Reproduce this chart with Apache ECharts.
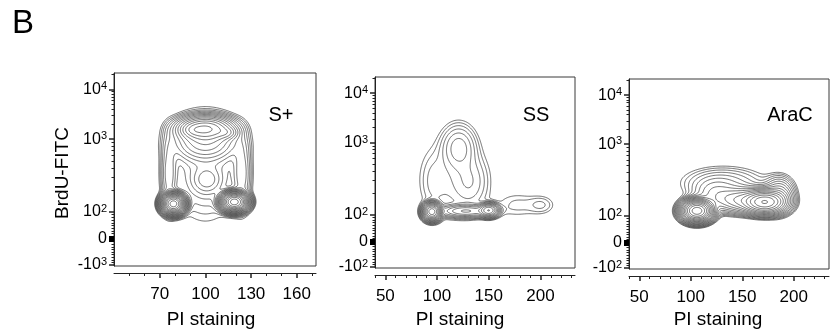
<!DOCTYPE html>
<html>
<head>
<meta charset="utf-8">
<script src="https://cdn.jsdelivr.net/npm/echarts@6.0.0/dist/echarts.min.js"></script>
<style>
  html, body { margin: 0; padding: 0; background: #fff; }
  #chart { width: 831px; height: 334px; }
</style>
</head>
<body>
<div id="chart"></div>
<script>
// panel titles
const panelNames = ['S+', 'SS', 'AraC']

// x axis (PI staining) ticks
const xMajor1 = [70, 100, 130, 160]
const xMinor1 = [50, 60, 80, 90, 110, 120, 140, 150, 170]
const xMajor2 = [50, 100, 150, 200]
const xMinor2 = [40, 60, 70, 80, 90, 110, 120, 130, 140, 160, 170, 180, 190, 210, 220, 230]

// y axis (BrdU-FITC) in display channels 0..1000, decade positions
const yMajor = [5, 140, 280, 657, 915]
const yLabels1 = ['-10{s|3}', '0', '10{s|2}', '10{s|3}', '10{s|4}']
const yLabels2 = ['-10{s|2}', '0', '10{s|2}', '10{s|3}', '10{s|4}']

// cell populations per sample: [PI, BrdU channel, sd PI, sd channel, weight]
const popsSplus = [
  [79, 322, 3.3, 23, 100],   // G1
  [119, 332, 3.8, 22, 100],  // G2
  [100, 712, 9, 32, 10],     // S phase cap
  [92, 705, 4, 18, 2],
  [114, 690, 4, 18, 2],
  [100, 640, 11, 50, 3],
  [76, 480, 3, 110, 0.8],    // side arms
  [124, 480, 3.5, 110, 0.8],
  [101, 446, 5.5, 40, 0.8],  // mid S
  [100, 520, 14, 170, 0.5]
]
const popsSS = [
  [95, 295, 3.8, 20, 100],   // G1
  [150, 302, 4.5, 17, 20],   // G2
  [128, 298, 13, 17, 6],     // early S ridge
  [121, 630, 9, 65, 2.0],    // BrdU+ S
  [132, 450, 10, 80, 0.8],
  [115, 470, 20, 130, 0.5],
  [96, 450, 7, 90, 0.3],
  [201, 330, 8, 30, 0.45],   // >G2
  [178, 330, 14, 45, 0.35]
]
const popsAraC = [
  [106, 306, 7, 27, 100],    // G1
  [172, 352, 10, 30, 40],    // G2
  [150, 362, 14, 35, 8],     // S bridge
  [124, 392, 12, 45, 2.5],
  [132, 455, 24, 50, 1.3],
  [186, 390, 8, 50, 4]
]

// contour levels: [lowest, highest, count] (log spaced)
const levels1 = [0.12, 80, 20]
const levels2 = [0.2, 75, 15]
const levels3 = [0.3, 80, 18]

const panels = [
  { left: 114, top: 73, width: 202, height: 193, xMin: 40, xMax: 172.6,
    xMajor: xMajor1, xMinor: xMinor1, yLabels: yLabels1, pops: popsSplus, lv: levels1,
    title: [281, 115.5], xName: [211, 320] },
  { left: 375, top: 77, width: 200, height: 191, xMin: 40, xMax: 233.4,
    xMajor: xMajor2, xMinor: xMinor2, yLabels: yLabels2, pops: popsSS, lv: levels2,
    title: [536, 115.5], xName: [460, 320] },
  { left: 629, top: 79, width: 200, height: 190, xMin: 40, xMax: 234.2,
    xMajor: xMajor2, xMinor: xMinor2, yLabels: yLabels2, pops: popsAraC, lv: levels3,
    title: [790, 115.5], xName: [718, 320] }
]

function density(pops, x, y) {
  let s = 0
  for (const p of pops) {
    const dx = (x - p[0]) / p[2]
    const dy = (y - p[1]) / p[3]
    s += p[4] * Math.exp(-0.5 * (dx * dx + dy * dy))
  }
  return s
}

function logLevels(lv) {
  const out = []
  for (let k = 0; k < lv[2]; k++) out.push(lv[0] * Math.pow(lv[1] / lv[0], k / (lv[2] - 1)))
  return out
}

const CASES = {
  1: [[3, 0]], 2: [[0, 1]], 3: [[3, 1]], 4: [[1, 2]], 6: [[0, 2]], 7: [[3, 2]],
  8: [[2, 3]], 9: [[0, 2]], 11: [[1, 2]], 12: [[1, 3]], 13: [[0, 1]], 14: [[0, 3]]
}

// marching squares over the density of one sample
function contourSegments(pops, xr, yr, levels, nx, ny) {
  const xs = []
  const ys = []
  for (let i = 0; i <= nx; i++) xs.push(xr[0] + (xr[1] - xr[0]) * i / nx)
  for (let j = 0; j <= ny; j++) ys.push(yr[0] + (yr[1] - yr[0]) * j / ny)
  const v = ys.map(y => xs.map(x => density(pops, x, y)))
  const segs = []
  levels.forEach(l => {
    for (let j = 0; j < ny; j++) {
      for (let i = 0; i < nx; i++) {
        const v0 = v[j][i]
        const v1 = v[j][i + 1]
        const v2 = v[j + 1][i + 1]
        const v3 = v[j + 1][i]
        const c = (v0 > l ? 1 : 0) | (v1 > l ? 2 : 0) | (v2 > l ? 4 : 0) | (v3 > l ? 8 : 0)
        if (c === 0 || c === 15) continue
        const pt = e => {
          if (e === 0) return [xs[i] + (l - v0) / (v1 - v0) * (xs[i + 1] - xs[i]), ys[j]]
          if (e === 1) return [xs[i + 1], ys[j] + (l - v1) / (v2 - v1) * (ys[j + 1] - ys[j])]
          if (e === 2) return [xs[i] + (l - v3) / (v2 - v3) * (xs[i + 1] - xs[i]), ys[j + 1]]
          return [xs[i], ys[j] + (l - v0) / (v3 - v0) * (ys[j + 1] - ys[j])]
        }
        let pairs = CASES[c]
        if (c === 5 || c === 10) {
          const mid = (v0 + v1 + v2 + v3) / 4 > l
          if (c === 5) pairs = mid ? [[0, 1], [2, 3]] : [[3, 0], [1, 2]]
          else pairs = mid ? [[3, 0], [1, 2]] : [[0, 1], [2, 3]]
        }
        pairs.forEach(pp => segs.push({ coords: [pt(pp[0]), pt(pp[1])] }))
      }
    }
  })
  return segs
}

// log minor ticks on the display channel scale
const yMinor = []
for (let k = 1; k < 10; k++) yMinor.push(yMajor[0] + (yMajor[1] - yMajor[0]) * k / 10)
for (let k = 1; k < 10; k++) yMinor.push(yMajor[1] + (yMajor[2] - yMajor[1]) * k / 10)
for (let k = 2; k < 10; k++) yMinor.push(yMajor[2] + (yMajor[3] - yMajor[2]) * Math.log10(k))
for (let k = 2; k < 10; k++) yMinor.push(yMajor[3] + (yMajor[4] - yMajor[3]) * Math.log10(k))
yMinor.push(yMajor[4] + (yMajor[4] - yMajor[3]) * Math.log10(2))

const FONT = '"Liberation Sans", Arial, sans-serif'
const chart = echarts.init(document.getElementById('chart'))

const grid = []
const xAxis = []
const yAxis = []
const series = []
const graphic = []

panels.forEach((p, idx) => {
  grid.push({
    left: p.left, top: p.top, width: p.width, height: p.height,
    show: true, borderColor: '#3a3a3a', borderWidth: 1, backgroundColor: 'transparent'
  })
  // main x axis, drawn a little below the frame
  xAxis.push({
    gridIndex: idx, type: 'value', min: p.xMin, max: p.xMax, position: 'bottom', offset: 7,
    axisLine: { show: true, onZero: false, lineStyle: { color: '#222', width: 1 } },
    axisTick: { show: true, customValues: p.xMajor, length: 5, lineStyle: { color: '#222', width: 1.5 } },
    axisLabel: { customValues: p.xMajor, margin: 13, fontSize: 17, color: '#000', fontFamily: FONT },
    splitLine: { show: false }
  })
  xAxis.push({
    gridIndex: idx, type: 'value', min: p.xMin, max: p.xMax, position: 'bottom', offset: 7,
    axisLine: { show: false, onZero: false },
    axisTick: { show: true, customValues: p.xMinor, length: 3, lineStyle: { color: '#222', width: 1 } },
    axisLabel: { show: false },
    splitLine: { show: false }
  })
  yAxis.push({
    gridIndex: idx, type: 'value', min: 0, max: 1000, position: 'left',
    axisLine: { show: true, onZero: false, lineStyle: { color: '#222', width: 1 } },
    axisTick: { show: true, customValues: yMajor, length: 5, lineStyle: { color: '#222', width: 1.5 } },
    axisLabel: {
      customValues: yMajor, margin: 7, fontSize: 16, color: '#000', fontFamily: FONT,
      formatter: v => p.yLabels[yMajor.indexOf(v)],
      rich: { s: { fontSize: 11, verticalAlign: 'top', color: '#000', fontFamily: FONT, padding: [0, 0, 6, 0] } }
    },
    splitLine: { show: false }
  })
  yAxis.push({
    gridIndex: idx, type: 'value', min: 0, max: 1000, position: 'left',
    axisLine: { show: false, onZero: false },
    axisTick: { show: true, customValues: yMinor, length: 2.5, lineStyle: { color: '#222', width: 1 } },
    axisLabel: { show: false },
    splitLine: { show: false }
  })
  yAxis.push({
    gridIndex: idx, type: 'value', min: 0, max: 1000, position: 'left',
    axisLine: { show: false, onZero: false },
    axisTick: { show: true, customValues: [yMajor[1]], length: 5, lineStyle: { color: '#000', width: 6 } },
    axisLabel: { show: false },
    splitLine: { show: false }
  })

  series.push({
    type: 'lines',
    coordinateSystem: 'cartesian2d',
    xAxisIndex: idx * 2,
    yAxisIndex: idx * 3,
    large: true,
    largeThreshold: 1,
    silent: true,
    lineStyle: { color: '#3c3c3c', width: 0.75, opacity: 1 },
    data: contourSegments(p.pops, [p.xMin, p.xMax], [0, 1000], logLevels(p.lv), 240, 300)
  })

  graphic.push({
    type: 'text', x: p.title[0], y: p.title[1],
    style: { text: panelNames[idx], fontSize: 20, fontFamily: FONT, fill: '#000', align: 'center', verticalAlign: 'middle' }
  })
  graphic.push({
    type: 'text', x: p.xName[0], y: p.xName[1],
    style: { text: 'PI staining', fontSize: 19, fontFamily: FONT, fill: '#000', align: 'center', verticalAlign: 'middle' }
  })
})

graphic.push({
  type: 'text', x: 62.5, y: 173, rotation: Math.PI / 2,
  style: { text: 'BrdU-FITC', fontSize: 19, fontFamily: FONT, fill: '#000', align: 'center', verticalAlign: 'middle' }
})
graphic.push({
  type: 'text', x: 23, y: 24,
  style: { text: 'B', fontSize: 33, fontFamily: FONT, fill: '#000', align: 'center', verticalAlign: 'middle' }
})

chart.setOption({
  backgroundColor: '#fff',
  animation: false,
  grid: grid,
  xAxis: xAxis,
  yAxis: yAxis,
  series: series,
  graphic: graphic
})
</script>
</body>
</html>
